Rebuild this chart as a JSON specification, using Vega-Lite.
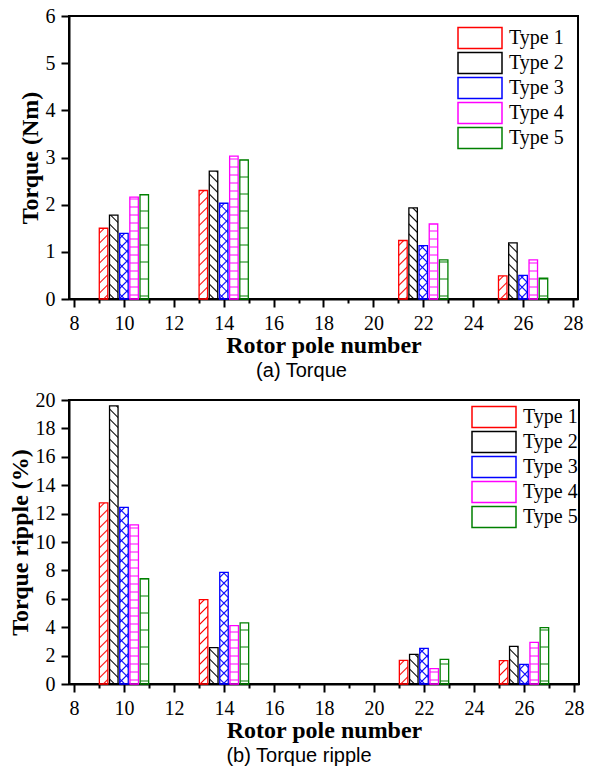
{
  "$schema": "https://vega.github.io/schema/vega-lite/v6.json",
  "background": "white",
  "padding": {"left": 7, "top": 5, "right": 5, "bottom": 5},
  "spacing": 7,
  "params": [
    {"name": "hatchRed", "value": [
      {"offset": 0.0035, "color": "rgba(255,0,0,0)"}, {"offset": 0.005, "color": "#ff0000"}, {"offset": 0.0065, "color": "rgba(255,0,0,0)"},
      {"offset": 0.0135, "color": "rgba(255,0,0,0)"}, {"offset": 0.015, "color": "#ff0000"}, {"offset": 0.0165, "color": "rgba(255,0,0,0)"},
      {"offset": 0.0235, "color": "rgba(255,0,0,0)"}, {"offset": 0.025, "color": "#ff0000"}, {"offset": 0.0265, "color": "rgba(255,0,0,0)"},
      {"offset": 0.0335, "color": "rgba(255,0,0,0)"}, {"offset": 0.035, "color": "#ff0000"}, {"offset": 0.0365, "color": "rgba(255,0,0,0)"},
      {"offset": 0.0435, "color": "rgba(255,0,0,0)"}, {"offset": 0.045, "color": "#ff0000"}, {"offset": 0.0465, "color": "rgba(255,0,0,0)"},
      {"offset": 0.0535, "color": "rgba(255,0,0,0)"}, {"offset": 0.055, "color": "#ff0000"}, {"offset": 0.0565, "color": "rgba(255,0,0,0)"},
      {"offset": 0.0635, "color": "rgba(255,0,0,0)"}, {"offset": 0.065, "color": "#ff0000"}, {"offset": 0.0665, "color": "rgba(255,0,0,0)"},
      {"offset": 0.0735, "color": "rgba(255,0,0,0)"}, {"offset": 0.075, "color": "#ff0000"}, {"offset": 0.0765, "color": "rgba(255,0,0,0)"},
      {"offset": 0.0835, "color": "rgba(255,0,0,0)"}, {"offset": 0.085, "color": "#ff0000"}, {"offset": 0.0865, "color": "rgba(255,0,0,0)"},
      {"offset": 0.0935, "color": "rgba(255,0,0,0)"}, {"offset": 0.095, "color": "#ff0000"}, {"offset": 0.0965, "color": "rgba(255,0,0,0)"},
      {"offset": 0.1035, "color": "rgba(255,0,0,0)"}, {"offset": 0.105, "color": "#ff0000"}, {"offset": 0.1065, "color": "rgba(255,0,0,0)"},
      {"offset": 0.1135, "color": "rgba(255,0,0,0)"}, {"offset": 0.115, "color": "#ff0000"}, {"offset": 0.1165, "color": "rgba(255,0,0,0)"},
      {"offset": 0.1235, "color": "rgba(255,0,0,0)"}, {"offset": 0.125, "color": "#ff0000"}, {"offset": 0.1265, "color": "rgba(255,0,0,0)"},
      {"offset": 0.1335, "color": "rgba(255,0,0,0)"}, {"offset": 0.135, "color": "#ff0000"}, {"offset": 0.1365, "color": "rgba(255,0,0,0)"},
      {"offset": 0.1435, "color": "rgba(255,0,0,0)"}, {"offset": 0.145, "color": "#ff0000"}, {"offset": 0.1465, "color": "rgba(255,0,0,0)"},
      {"offset": 0.1535, "color": "rgba(255,0,0,0)"}, {"offset": 0.155, "color": "#ff0000"}, {"offset": 0.1565, "color": "rgba(255,0,0,0)"},
      {"offset": 0.1635, "color": "rgba(255,0,0,0)"}, {"offset": 0.165, "color": "#ff0000"}, {"offset": 0.1665, "color": "rgba(255,0,0,0)"},
      {"offset": 0.1735, "color": "rgba(255,0,0,0)"}, {"offset": 0.175, "color": "#ff0000"}, {"offset": 0.1765, "color": "rgba(255,0,0,0)"},
      {"offset": 0.1835, "color": "rgba(255,0,0,0)"}, {"offset": 0.185, "color": "#ff0000"}, {"offset": 0.1865, "color": "rgba(255,0,0,0)"},
      {"offset": 0.1935, "color": "rgba(255,0,0,0)"}, {"offset": 0.195, "color": "#ff0000"}, {"offset": 0.1965, "color": "rgba(255,0,0,0)"}
    ]},
    {"name": "hatchBlack", "value": [
      {"offset": 0.0035, "color": "rgba(0,0,0,0)"}, {"offset": 0.005, "color": "#000000"}, {"offset": 0.0065, "color": "rgba(0,0,0,0)"},
      {"offset": 0.0135, "color": "rgba(0,0,0,0)"}, {"offset": 0.015, "color": "#000000"}, {"offset": 0.0165, "color": "rgba(0,0,0,0)"},
      {"offset": 0.0235, "color": "rgba(0,0,0,0)"}, {"offset": 0.025, "color": "#000000"}, {"offset": 0.0265, "color": "rgba(0,0,0,0)"},
      {"offset": 0.0335, "color": "rgba(0,0,0,0)"}, {"offset": 0.035, "color": "#000000"}, {"offset": 0.0365, "color": "rgba(0,0,0,0)"},
      {"offset": 0.0435, "color": "rgba(0,0,0,0)"}, {"offset": 0.045, "color": "#000000"}, {"offset": 0.0465, "color": "rgba(0,0,0,0)"},
      {"offset": 0.0535, "color": "rgba(0,0,0,0)"}, {"offset": 0.055, "color": "#000000"}, {"offset": 0.0565, "color": "rgba(0,0,0,0)"},
      {"offset": 0.0635, "color": "rgba(0,0,0,0)"}, {"offset": 0.065, "color": "#000000"}, {"offset": 0.0665, "color": "rgba(0,0,0,0)"},
      {"offset": 0.0735, "color": "rgba(0,0,0,0)"}, {"offset": 0.075, "color": "#000000"}, {"offset": 0.0765, "color": "rgba(0,0,0,0)"},
      {"offset": 0.0835, "color": "rgba(0,0,0,0)"}, {"offset": 0.085, "color": "#000000"}, {"offset": 0.0865, "color": "rgba(0,0,0,0)"},
      {"offset": 0.0935, "color": "rgba(0,0,0,0)"}, {"offset": 0.095, "color": "#000000"}, {"offset": 0.0965, "color": "rgba(0,0,0,0)"},
      {"offset": 0.1035, "color": "rgba(0,0,0,0)"}, {"offset": 0.105, "color": "#000000"}, {"offset": 0.1065, "color": "rgba(0,0,0,0)"},
      {"offset": 0.1135, "color": "rgba(0,0,0,0)"}, {"offset": 0.115, "color": "#000000"}, {"offset": 0.1165, "color": "rgba(0,0,0,0)"},
      {"offset": 0.1235, "color": "rgba(0,0,0,0)"}, {"offset": 0.125, "color": "#000000"}, {"offset": 0.1265, "color": "rgba(0,0,0,0)"},
      {"offset": 0.1335, "color": "rgba(0,0,0,0)"}, {"offset": 0.135, "color": "#000000"}, {"offset": 0.1365, "color": "rgba(0,0,0,0)"},
      {"offset": 0.1435, "color": "rgba(0,0,0,0)"}, {"offset": 0.145, "color": "#000000"}, {"offset": 0.1465, "color": "rgba(0,0,0,0)"},
      {"offset": 0.1535, "color": "rgba(0,0,0,0)"}, {"offset": 0.155, "color": "#000000"}, {"offset": 0.1565, "color": "rgba(0,0,0,0)"},
      {"offset": 0.1635, "color": "rgba(0,0,0,0)"}, {"offset": 0.165, "color": "#000000"}, {"offset": 0.1665, "color": "rgba(0,0,0,0)"},
      {"offset": 0.1735, "color": "rgba(0,0,0,0)"}, {"offset": 0.175, "color": "#000000"}, {"offset": 0.1765, "color": "rgba(0,0,0,0)"},
      {"offset": 0.1835, "color": "rgba(0,0,0,0)"}, {"offset": 0.185, "color": "#000000"}, {"offset": 0.1865, "color": "rgba(0,0,0,0)"},
      {"offset": 0.1935, "color": "rgba(0,0,0,0)"}, {"offset": 0.195, "color": "#000000"}, {"offset": 0.1965, "color": "rgba(0,0,0,0)"},
      {"offset": 0.2035, "color": "rgba(0,0,0,0)"}, {"offset": 0.205, "color": "#000000"}, {"offset": 0.2065, "color": "rgba(0,0,0,0)"},
      {"offset": 0.2135, "color": "rgba(0,0,0,0)"}, {"offset": 0.215, "color": "#000000"}, {"offset": 0.2165, "color": "rgba(0,0,0,0)"},
      {"offset": 0.2235, "color": "rgba(0,0,0,0)"}, {"offset": 0.225, "color": "#000000"}, {"offset": 0.2265, "color": "rgba(0,0,0,0)"},
      {"offset": 0.2335, "color": "rgba(0,0,0,0)"}, {"offset": 0.235, "color": "#000000"}, {"offset": 0.2365, "color": "rgba(0,0,0,0)"},
      {"offset": 0.2435, "color": "rgba(0,0,0,0)"}, {"offset": 0.245, "color": "#000000"}, {"offset": 0.2465, "color": "rgba(0,0,0,0)"},
      {"offset": 0.2535, "color": "rgba(0,0,0,0)"}, {"offset": 0.255, "color": "#000000"}, {"offset": 0.2565, "color": "rgba(0,0,0,0)"},
      {"offset": 0.2635, "color": "rgba(0,0,0,0)"}, {"offset": 0.265, "color": "#000000"}, {"offset": 0.2665, "color": "rgba(0,0,0,0)"},
      {"offset": 0.2735, "color": "rgba(0,0,0,0)"}, {"offset": 0.275, "color": "#000000"}, {"offset": 0.2765, "color": "rgba(0,0,0,0)"},
      {"offset": 0.2835, "color": "rgba(0,0,0,0)"}, {"offset": 0.285, "color": "#000000"}, {"offset": 0.2865, "color": "rgba(0,0,0,0)"},
      {"offset": 0.2935, "color": "rgba(0,0,0,0)"}, {"offset": 0.295, "color": "#000000"}, {"offset": 0.2965, "color": "rgba(0,0,0,0)"}
    ]},
    {"name": "hatchBlue", "value": [
      {"offset": 0.0035, "color": "rgba(0,0,255,0)"}, {"offset": 0.005, "color": "#0000ff"}, {"offset": 0.0065, "color": "rgba(0,0,255,0)"},
      {"offset": 0.0135, "color": "rgba(0,0,255,0)"}, {"offset": 0.015, "color": "#0000ff"}, {"offset": 0.0165, "color": "rgba(0,0,255,0)"},
      {"offset": 0.0235, "color": "rgba(0,0,255,0)"}, {"offset": 0.025, "color": "#0000ff"}, {"offset": 0.0265, "color": "rgba(0,0,255,0)"},
      {"offset": 0.0335, "color": "rgba(0,0,255,0)"}, {"offset": 0.035, "color": "#0000ff"}, {"offset": 0.0365, "color": "rgba(0,0,255,0)"},
      {"offset": 0.0435, "color": "rgba(0,0,255,0)"}, {"offset": 0.045, "color": "#0000ff"}, {"offset": 0.0465, "color": "rgba(0,0,255,0)"},
      {"offset": 0.0535, "color": "rgba(0,0,255,0)"}, {"offset": 0.055, "color": "#0000ff"}, {"offset": 0.0565, "color": "rgba(0,0,255,0)"},
      {"offset": 0.0635, "color": "rgba(0,0,255,0)"}, {"offset": 0.065, "color": "#0000ff"}, {"offset": 0.0665, "color": "rgba(0,0,255,0)"},
      {"offset": 0.0735, "color": "rgba(0,0,255,0)"}, {"offset": 0.075, "color": "#0000ff"}, {"offset": 0.0765, "color": "rgba(0,0,255,0)"},
      {"offset": 0.0835, "color": "rgba(0,0,255,0)"}, {"offset": 0.085, "color": "#0000ff"}, {"offset": 0.0865, "color": "rgba(0,0,255,0)"},
      {"offset": 0.0935, "color": "rgba(0,0,255,0)"}, {"offset": 0.095, "color": "#0000ff"}, {"offset": 0.0965, "color": "rgba(0,0,255,0)"},
      {"offset": 0.1035, "color": "rgba(0,0,255,0)"}, {"offset": 0.105, "color": "#0000ff"}, {"offset": 0.1065, "color": "rgba(0,0,255,0)"},
      {"offset": 0.1135, "color": "rgba(0,0,255,0)"}, {"offset": 0.115, "color": "#0000ff"}, {"offset": 0.1165, "color": "rgba(0,0,255,0)"},
      {"offset": 0.1235, "color": "rgba(0,0,255,0)"}, {"offset": 0.125, "color": "#0000ff"}, {"offset": 0.1265, "color": "rgba(0,0,255,0)"},
      {"offset": 0.1335, "color": "rgba(0,0,255,0)"}, {"offset": 0.135, "color": "#0000ff"}, {"offset": 0.1365, "color": "rgba(0,0,255,0)"},
      {"offset": 0.1435, "color": "rgba(0,0,255,0)"}, {"offset": 0.145, "color": "#0000ff"}, {"offset": 0.1465, "color": "rgba(0,0,255,0)"},
      {"offset": 0.1535, "color": "rgba(0,0,255,0)"}, {"offset": 0.155, "color": "#0000ff"}, {"offset": 0.1565, "color": "rgba(0,0,255,0)"},
      {"offset": 0.1635, "color": "rgba(0,0,255,0)"}, {"offset": 0.165, "color": "#0000ff"}, {"offset": 0.1665, "color": "rgba(0,0,255,0)"},
      {"offset": 0.1735, "color": "rgba(0,0,255,0)"}, {"offset": 0.175, "color": "#0000ff"}, {"offset": 0.1765, "color": "rgba(0,0,255,0)"},
      {"offset": 0.1835, "color": "rgba(0,0,255,0)"}, {"offset": 0.185, "color": "#0000ff"}, {"offset": 0.1865, "color": "rgba(0,0,255,0)"},
      {"offset": 0.1935, "color": "rgba(0,0,255,0)"}, {"offset": 0.195, "color": "#0000ff"}, {"offset": 0.1965, "color": "rgba(0,0,255,0)"}
    ]},
    {"name": "hatchMagenta", "value": [
      {"offset": 0.003, "color": "rgba(255,0,255,0)"}, {"offset": 0.004, "color": "#ff00ff"}, {"offset": 0.005, "color": "rgba(255,0,255,0)"},
      {"offset": 0.011, "color": "rgba(255,0,255,0)"}, {"offset": 0.012, "color": "#ff00ff"}, {"offset": 0.013, "color": "rgba(255,0,255,0)"},
      {"offset": 0.019, "color": "rgba(255,0,255,0)"}, {"offset": 0.020, "color": "#ff00ff"}, {"offset": 0.021, "color": "rgba(255,0,255,0)"},
      {"offset": 0.027, "color": "rgba(255,0,255,0)"}, {"offset": 0.028, "color": "#ff00ff"}, {"offset": 0.029, "color": "rgba(255,0,255,0)"},
      {"offset": 0.035, "color": "rgba(255,0,255,0)"}, {"offset": 0.036, "color": "#ff00ff"}, {"offset": 0.037, "color": "rgba(255,0,255,0)"},
      {"offset": 0.043, "color": "rgba(255,0,255,0)"}, {"offset": 0.044, "color": "#ff00ff"}, {"offset": 0.045, "color": "rgba(255,0,255,0)"},
      {"offset": 0.051, "color": "rgba(255,0,255,0)"}, {"offset": 0.052, "color": "#ff00ff"}, {"offset": 0.053, "color": "rgba(255,0,255,0)"},
      {"offset": 0.059, "color": "rgba(255,0,255,0)"}, {"offset": 0.060, "color": "#ff00ff"}, {"offset": 0.061, "color": "rgba(255,0,255,0)"},
      {"offset": 0.067, "color": "rgba(255,0,255,0)"}, {"offset": 0.068, "color": "#ff00ff"}, {"offset": 0.069, "color": "rgba(255,0,255,0)"},
      {"offset": 0.075, "color": "rgba(255,0,255,0)"}, {"offset": 0.076, "color": "#ff00ff"}, {"offset": 0.077, "color": "rgba(255,0,255,0)"},
      {"offset": 0.083, "color": "rgba(255,0,255,0)"}, {"offset": 0.084, "color": "#ff00ff"}, {"offset": 0.085, "color": "rgba(255,0,255,0)"},
      {"offset": 0.091, "color": "rgba(255,0,255,0)"}, {"offset": 0.092, "color": "#ff00ff"}, {"offset": 0.093, "color": "rgba(255,0,255,0)"},
      {"offset": 0.099, "color": "rgba(255,0,255,0)"}, {"offset": 0.100, "color": "#ff00ff"}, {"offset": 0.101, "color": "rgba(255,0,255,0)"},
      {"offset": 0.107, "color": "rgba(255,0,255,0)"}, {"offset": 0.108, "color": "#ff00ff"}, {"offset": 0.109, "color": "rgba(255,0,255,0)"},
      {"offset": 0.115, "color": "rgba(255,0,255,0)"}, {"offset": 0.116, "color": "#ff00ff"}, {"offset": 0.117, "color": "rgba(255,0,255,0)"},
      {"offset": 0.123, "color": "rgba(255,0,255,0)"}, {"offset": 0.124, "color": "#ff00ff"}, {"offset": 0.125, "color": "rgba(255,0,255,0)"},
      {"offset": 0.131, "color": "rgba(255,0,255,0)"}, {"offset": 0.132, "color": "#ff00ff"}, {"offset": 0.133, "color": "rgba(255,0,255,0)"},
      {"offset": 0.139, "color": "rgba(255,0,255,0)"}, {"offset": 0.140, "color": "#ff00ff"}, {"offset": 0.141, "color": "rgba(255,0,255,0)"},
      {"offset": 0.147, "color": "rgba(255,0,255,0)"}, {"offset": 0.148, "color": "#ff00ff"}, {"offset": 0.149, "color": "rgba(255,0,255,0)"},
      {"offset": 0.155, "color": "rgba(255,0,255,0)"}, {"offset": 0.156, "color": "#ff00ff"}, {"offset": 0.157, "color": "rgba(255,0,255,0)"},
      {"offset": 0.163, "color": "rgba(255,0,255,0)"}, {"offset": 0.164, "color": "#ff00ff"}, {"offset": 0.165, "color": "rgba(255,0,255,0)"}
    ]},
    {"name": "hatchGreen", "value": [
      {"offset": 0.002, "color": "rgba(0,128,0,0)"}, {"offset": 0.003, "color": "#008000"}, {"offset": 0.004, "color": "rgba(0,128,0,0)"},
      {"offset": 0.019, "color": "rgba(0,128,0,0)"}, {"offset": 0.020, "color": "#008000"}, {"offset": 0.021, "color": "rgba(0,128,0,0)"},
      {"offset": 0.036, "color": "rgba(0,128,0,0)"}, {"offset": 0.037, "color": "#008000"}, {"offset": 0.038, "color": "rgba(0,128,0,0)"},
      {"offset": 0.053, "color": "rgba(0,128,0,0)"}, {"offset": 0.054, "color": "#008000"}, {"offset": 0.055, "color": "rgba(0,128,0,0)"},
      {"offset": 0.070, "color": "rgba(0,128,0,0)"}, {"offset": 0.071, "color": "#008000"}, {"offset": 0.072, "color": "rgba(0,128,0,0)"},
      {"offset": 0.087, "color": "rgba(0,128,0,0)"}, {"offset": 0.088, "color": "#008000"}, {"offset": 0.089, "color": "rgba(0,128,0,0)"},
      {"offset": 0.104, "color": "rgba(0,128,0,0)"}, {"offset": 0.105, "color": "#008000"}, {"offset": 0.106, "color": "rgba(0,128,0,0)"},
      {"offset": 0.121, "color": "rgba(0,128,0,0)"}, {"offset": 0.122, "color": "#008000"}, {"offset": 0.123, "color": "rgba(0,128,0,0)"},
      {"offset": 0.138, "color": "rgba(0,128,0,0)"}, {"offset": 0.139, "color": "#008000"}, {"offset": 0.140, "color": "rgba(0,128,0,0)"},
      {"offset": 0.155, "color": "rgba(0,128,0,0)"}, {"offset": 0.156, "color": "#008000"}, {"offset": 0.157, "color": "rgba(0,128,0,0)"}
    ]}
  ],
  "datasets": {
    "torque": [
      {"pole": 10, "type": "Type 1", "value": 1.50},
      {"pole": 10, "type": "Type 2", "value": 1.78},
      {"pole": 10, "type": "Type 3", "value": 1.39},
      {"pole": 10, "type": "Type 4", "value": 2.16},
      {"pole": 10, "type": "Type 5", "value": 2.21},
      {"pole": 14, "type": "Type 1", "value": 2.30},
      {"pole": 14, "type": "Type 2", "value": 2.71},
      {"pole": 14, "type": "Type 3", "value": 2.03},
      {"pole": 14, "type": "Type 4", "value": 3.03},
      {"pole": 14, "type": "Type 5", "value": 2.95},
      {"pole": 22, "type": "Type 1", "value": 1.24},
      {"pole": 22, "type": "Type 2", "value": 1.93},
      {"pole": 22, "type": "Type 3", "value": 1.13},
      {"pole": 22, "type": "Type 4", "value": 1.59},
      {"pole": 22, "type": "Type 5", "value": 0.83},
      {"pole": 26, "type": "Type 1", "value": 0.49},
      {"pole": 26, "type": "Type 2", "value": 1.19},
      {"pole": 26, "type": "Type 3", "value": 0.50},
      {"pole": 26, "type": "Type 4", "value": 0.83},
      {"pole": 26, "type": "Type 5", "value": 0.44}
    ],
    "ripple": [
      {"pole": 10, "type": "Type 1", "value": 12.75},
      {"pole": 10, "type": "Type 2", "value": 19.58},
      {"pole": 10, "type": "Type 3", "value": 12.44},
      {"pole": 10, "type": "Type 4", "value": 11.2},
      {"pole": 10, "type": "Type 5", "value": 7.42},
      {"pole": 14, "type": "Type 1", "value": 5.94},
      {"pole": 14, "type": "Type 2", "value": 2.56},
      {"pole": 14, "type": "Type 3", "value": 7.86},
      {"pole": 14, "type": "Type 4", "value": 4.11},
      {"pole": 14, "type": "Type 5", "value": 4.30},
      {"pole": 22, "type": "Type 1", "value": 1.67},
      {"pole": 22, "type": "Type 2", "value": 2.09},
      {"pole": 22, "type": "Type 3", "value": 2.51},
      {"pole": 22, "type": "Type 4", "value": 1.08},
      {"pole": 22, "type": "Type 5", "value": 1.74},
      {"pole": 26, "type": "Type 1", "value": 1.64},
      {"pole": 26, "type": "Type 2", "value": 2.65},
      {"pole": 26, "type": "Type 3", "value": 1.38},
      {"pole": 26, "type": "Type 4", "value": 2.93},
      {"pole": 26, "type": "Type 5", "value": 3.97}
    ]
  },
  "config": {
    "view": {"stroke": "#000000", "strokeWidth": 2},
    "axis": {
      "grid": false,
      "domainColor": "#000000",
      "domainWidth": 2,
      "tickColor": "#000000",
      "tickWidth": 2,
      "labelFont": "Liberation Serif",
      "labelFontSize": 20,
      "labelColor": "#000000",
      "labelOverlap": false,
      "labelFlush": false,
      "titleFont": "Liberation Serif",
      "titleFontSize": 24,
      "titleFontWeight": "bold",
      "titleColor": "#000000"
    },
    "legend": {
      "title": null,
      "orient": "none",
      "padding": 0,
      "symbolType": "M-2.2,-1.05H2.2V1.05H-2.2Z",
      "symbolSize": 400,
      "symbolStrokeWidth": 1.5,
      "labelFont": "Liberation Serif",
      "labelFontSize": 20,
      "labelColor": "#000000",
      "labelOffset": 18,
      "rowPadding": -3
    },
    "title": {"font": "Liberation Sans", "fontSize": 20, "fontWeight": "normal", "color": "#000000"}
  },
  "vconcat": [
    {
      "width": 509,
      "height": 283,
      "data": {"name": "torque"},
      "title": {"text": "(a) Torque", "orient": "bottom", "anchor": "middle", "dx": -22, "offset": 4},
      "encoding": {
        "x": {
          "field": "pole", "type": "quantitative",
          "scale": {"domain": [8, 28], "nice": false, "zero": false},
          "axis": {
            "title": "Rotor pole number",
            "values": [8, 9, 10, 11, 12, 13, 14, 15, 16, 17, 18, 19, 20, 21, 22, 23, 24, 25, 26, 27, 28],
            "labelExpr": "datum.value % 2 === 0 ? datum.label : ''",
            "tickSize": {"condition": {"test": "datum.value % 2 === 0", "value": 8}, "value": 4},
            "labelPadding": 6,
            "titlePadding": 0
          }
        },
        "y": {
          "field": "value", "type": "quantitative", "stack": null,
          "scale": {"domain": [0, 6], "nice": false},
          "axis": {"title": "Torque (Nm)", "values": [0, 1, 2, 3, 4, 5, 6], "tickSize": 8, "labelPadding": 6, "titlePadding": 3}
        }
      },
      "layer": [
        {
          "mark": {
            "type": "bar", "width": 8.5, "strokeWidth": 1.3,
            "xOffset": {"expr": "(indexof(['Type 1', 'Type 2', 'Type 3', 'Type 4', 'Type 5'], datum.type) - 2) * 10.18"},
            "fill": {"expr": "datum.type === 'Type 1' ? {gradient: 'linear', x1: 0, y1: 0, x2: 8500 / (72.25 + pow(datum.value * 47.1667, 2)), y2: 1000 * datum.value * 47.1667 / (72.25 + pow(datum.value * 47.1667, 2)), stops: hatchRed} : datum.type === 'Type 2' ? {gradient: 'linear', x1: 0, y1: 1, x2: 8500 / (72.25 + pow(datum.value * 47.1667, 2)), y2: 1 - 1000 * datum.value * 47.1667 / (72.25 + pow(datum.value * 47.1667, 2)), stops: hatchBlack} : datum.type === 'Type 3' ? {gradient: 'linear', x1: 0, y1: 0, x2: 8500 / (72.25 + pow(datum.value * 47.1667, 2)), y2: 1000 * datum.value * 47.1667 / (72.25 + pow(datum.value * 47.1667, 2)), stops: hatchBlue} : datum.type === 'Type 4' ? {gradient: 'linear', x1: 0, y1: 1, x2: 0.000001, y2: 1 - 1000 / (datum.value * 47.1667), stops: hatchMagenta} : {gradient: 'linear', x1: 0, y1: 1, x2: 0.000001, y2: 1 - 1000 / (datum.value * 47.1667), stops: hatchGreen}"}
          },
          "encoding": {
            "stroke": {
              "field": "type", "type": "nominal",
              "scale": {"domain": ["Type 1", "Type 2", "Type 3", "Type 4", "Type 5"], "range": ["#ff0000", "#000000", "#0000ff", "#ff00ff", "#008000"]},
              "legend": {
                "legendX": 400, "legendY": 11, "rowPadding": -3,
                "encode": {"symbols": {
                  "fillOpacity": {"value": 1},
                  "fill": {"value": {"expr": "datum.value === 'Type 1' ? {gradient: 'linear', x1: 0, y1: 0, x2: 18.511, y2: 8.835, stops: hatchRed} : datum.value === 'Type 2' ? {gradient: 'linear', x1: 0, y1: 1, x2: 18.511, y2: -7.835, stops: hatchBlack} : datum.value === 'Type 3' ? {gradient: 'linear', x1: 0, y1: 0, x2: 18.511, y2: 8.835, stops: hatchBlue} : datum.value === 'Type 4' ? {gradient: 'linear', x1: 0, y1: 1, x2: 0.000001, y2: -46.619, stops: hatchMagenta} : {gradient: 'linear', x1: 0, y1: 1, x2: 0.000001, y2: -46.619, stops: hatchGreen}"}}
                }}
              }
            }
          }
        },
        {
          "transform": [{"filter": "datum.type === 'Type 3'"}],
          "mark": {
            "type": "bar", "width": 8.5, "strokeWidth": 0,
            "fill": {"expr": "{gradient: 'linear', x1: 0, y1: 1, x2: 8500 / (72.25 + pow(datum.value * 47.1667, 2)), y2: 1 - 1000 * datum.value * 47.1667 / (72.25 + pow(datum.value * 47.1667, 2)), stops: hatchBlue}"}
          }
        }
      ]
    },
    {
      "width": 510,
      "height": 284,
      "data": {"name": "ripple"},
      "title": {"text": "(b) Torque ripple", "orient": "bottom", "anchor": "middle", "dx": -25, "offset": 4},
      "encoding": {
        "x": {
          "field": "pole", "type": "quantitative",
          "scale": {"domain": [8, 28], "nice": false, "zero": false},
          "axis": {
            "title": "Rotor pole number",
            "values": [8, 9, 10, 11, 12, 13, 14, 15, 16, 17, 18, 19, 20, 21, 22, 23, 24, 25, 26, 27, 28],
            "labelExpr": "datum.value % 2 === 0 ? datum.label : ''",
            "tickSize": {"condition": {"test": "datum.value % 2 === 0", "value": 8}, "value": 4},
            "labelPadding": 6,
            "titlePadding": 0
          }
        },
        "y": {
          "field": "value", "type": "quantitative", "stack": null,
          "scale": {"domain": [0, 20], "nice": false},
          "axis": {"title": "Torque ripple (%)", "values": [0, 2, 4, 6, 8, 10, 12, 14, 16, 18, 20], "tickSize": 8, "labelPadding": 6, "titlePadding": 3}
        }
      },
      "layer": [
        {
          "mark": {
            "type": "bar", "width": 8.5, "strokeWidth": 1.3,
            "xOffset": {"expr": "(indexof(['Type 1', 'Type 2', 'Type 3', 'Type 4', 'Type 5'], datum.type) - 2) * 10.2"},
            "fill": {"expr": "datum.type === 'Type 1' ? {gradient: 'linear', x1: 0, y1: 0, x2: 8500 / (72.25 + pow(datum.value * 14.2, 2)), y2: 1000 * datum.value * 14.2 / (72.25 + pow(datum.value * 14.2, 2)), stops: hatchRed} : datum.type === 'Type 2' ? {gradient: 'linear', x1: 0, y1: 1, x2: 8500 / (72.25 + pow(datum.value * 14.2, 2)), y2: 1 - 1000 * datum.value * 14.2 / (72.25 + pow(datum.value * 14.2, 2)), stops: hatchBlack} : datum.type === 'Type 3' ? {gradient: 'linear', x1: 0, y1: 0, x2: 8500 / (72.25 + pow(datum.value * 14.2, 2)), y2: 1000 * datum.value * 14.2 / (72.25 + pow(datum.value * 14.2, 2)), stops: hatchBlue} : datum.type === 'Type 4' ? {gradient: 'linear', x1: 0, y1: 1, x2: 0.000001, y2: 1 - 1000 / (datum.value * 14.2), stops: hatchMagenta} : {gradient: 'linear', x1: 0, y1: 1, x2: 0.000001, y2: 1 - 1000 / (datum.value * 14.2), stops: hatchGreen}"}
          },
          "encoding": {
            "stroke": {
              "field": "type", "type": "nominal",
              "scale": {"domain": ["Type 1", "Type 2", "Type 3", "Type 4", "Type 5"], "range": ["#ff0000", "#000000", "#0000ff", "#ff00ff", "#008000"]},
              "legend": {
                "legendX": 414, "legendY": 6, "rowPadding": -3,
                "encode": {"symbols": {
                  "fillOpacity": {"value": 1},
                  "fill": {"value": {"expr": "datum.value === 'Type 1' ? {gradient: 'linear', x1: 0, y1: 0, x2: 18.511, y2: 8.835, stops: hatchRed} : datum.value === 'Type 2' ? {gradient: 'linear', x1: 0, y1: 1, x2: 18.511, y2: -7.835, stops: hatchBlack} : datum.value === 'Type 3' ? {gradient: 'linear', x1: 0, y1: 0, x2: 18.511, y2: 8.835, stops: hatchBlue} : datum.value === 'Type 4' ? {gradient: 'linear', x1: 0, y1: 1, x2: 0.000001, y2: -46.619, stops: hatchMagenta} : {gradient: 'linear', x1: 0, y1: 1, x2: 0.000001, y2: -46.619, stops: hatchGreen}"}}
                }}
              }
            }
          }
        },
        {
          "transform": [{"filter": "datum.type === 'Type 3'"}],
          "mark": {
            "type": "bar", "width": 8.5, "strokeWidth": 0,
            "fill": {"expr": "{gradient: 'linear', x1: 0, y1: 1, x2: 8500 / (72.25 + pow(datum.value * 14.2, 2)), y2: 1 - 1000 * datum.value * 14.2 / (72.25 + pow(datum.value * 14.2, 2)), stops: hatchBlue}"}
          }
        }
      ]
    }
  ],
  "resolve": {"legend": {"stroke": "independent"}}
}
